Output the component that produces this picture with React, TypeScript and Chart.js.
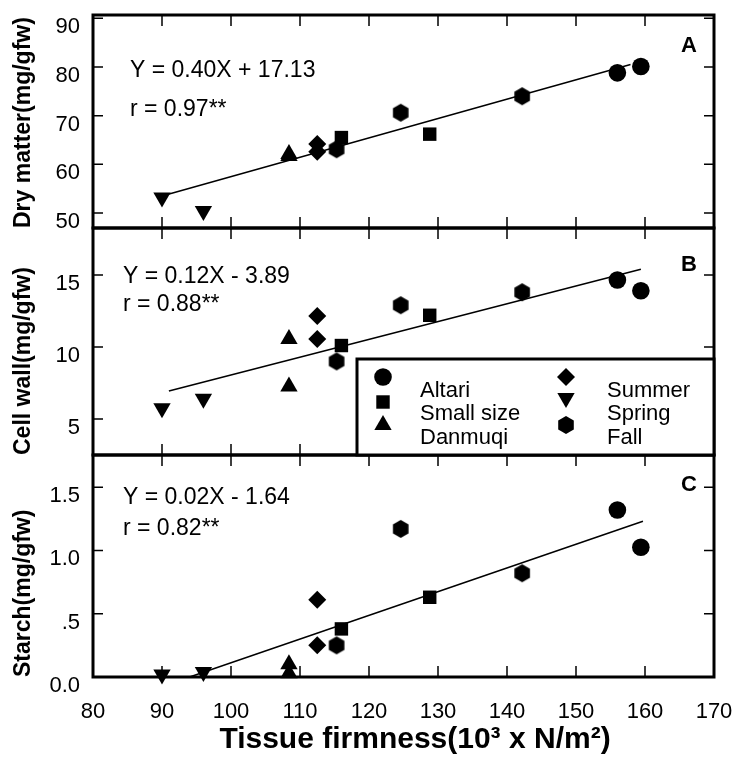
import React, { useEffect, useRef } from 'react';
import { Chart, registerables } from 'chart.js';

Chart.register(...registerables);

const FONT = '"Liberation Sans", Arial, Helvetica, sans-serif';

// ---- data ----
const categories = ['Altari', 'Small size', 'Danmuqi', 'Summer', 'Spring', 'Fall'];
const sampleCategory = ['Altari', 'Altari', 'Small size', 'Small size', 'Danmuqi', 'Danmuqi', 'Summer', 'Summer', 'Spring', 'Spring', 'Fall', 'Fall', 'Fall'];
const firmness = [156, 159.4, 116, 128.8, 108.4, 108.4, 112.5, 112.5, 90, 96, 115.3, 124.6, 142.2];
const dryMatter = [78.8, 80.1, 65.5, 66.2, 62.1, 61.7, 64.2, 62.6, 53.2, 50.4, 63.1, 70.6, 74.0];
const cellWall = [14.65, 13.9, 10.1, 12.2, 10.55, 7.25, 12.15, 10.55, 5.75, 6.4, 9.0, 12.9, 13.8];
const starch = [1.32, 1.025, 0.38, 0.63, 0.1, 0.03, 0.61, 0.25, 0.02, 0.04, 0.25, 1.17, 0.82];

const fitDryX = [90, 157.9];
const fitDryY = [53.5, 80.5];
const fitCellX = [91, 159.4];
const fitCellY = [6.95, 15.4];
const fitStarchX = [94, 159.7];
const fitStarchY = [0, 1.23];

const xTicks = [80, 90, 100, 110, 120, 130, 140, 150, 160, 170];
const dryTicks = [50, 60, 70, 80, 90];
const cellTicks = [5, 10, 15];
const starchTicks = [0, 0.5, 1.0, 1.5];
const starchTickLabels = ['0.0', '.5', '1.0', '1.5'];

const panelTitles = ['Dry matter(mg/gfw)', 'Cell wall(mg/gfw)', 'Starch(mg/gfw)'];
const equations = ['Y = 0.40X + 17.13', 'Y = 0.12X - 3.89', 'Y = 0.02X - 1.64'];
const correlations = ['r = 0.97**', 'r = 0.88**', 'r = 0.82**'];
const panelLetters = ['A', 'B', 'C'];
const xTitle = 'Tissue firmness(10³ x N/m²)';

// ---- styles ----
const PANEL_IDS = ['yA', 'yB', 'yC'];
const eqOffsets = [
  { dx: 37, dy1: 56, dy2: 95 },
  { dx: 30, dy1: 49, dy2: 77 },
  { dx: 30, dy1: 43, dy2: 74 },
];
const letterOffsets = [31, 37, 30];

function makeHexagon(r: number) {
  const w = Math.ceil(2 * r * Math.cos(Math.PI / 6)) + 2;
  const h = Math.ceil(2 * r) + 2;
  const c = document.createElement('canvas');
  c.width = w;
  c.height = h;
  const ctx = c.getContext('2d')!;
  ctx.fillStyle = '#000';
  ctx.beginPath();
  for (let i = 0; i < 6; i++) {
    const a = -Math.PI / 2 + (i * Math.PI) / 3;
    const x = w / 2 + r * Math.cos(a);
    const y = h / 2 + r * Math.sin(a);
    if (i === 0) ctx.moveTo(x, y);
    else ctx.lineTo(x, y);
  }
  ctx.closePath();
  ctx.fill();
  return c;
}

type Marker = { pointStyle: any; radius: number; rotation: number };

function markerFor(cat: string, hex: HTMLCanvasElement): Marker {
  switch (cat) {
    case 'Altari':
      return { pointStyle: 'circle', radius: 8.8, rotation: 0 };
    case 'Small size':
      return { pointStyle: 'rect', radius: 9.5, rotation: 0 };
    case 'Danmuqi':
      return { pointStyle: 'triangle', radius: 10, rotation: 0 };
    case 'Summer':
      return { pointStyle: 'rectRot', radius: 9, rotation: 0 };
    case 'Spring':
      return { pointStyle: 'triangle', radius: 10, rotation: 180 };
    default:
      return { pointStyle: hex, radius: 9, rotation: 0 };
  }
}

function drawMarker(ctx: CanvasRenderingContext2D, m: Marker, x: number, y: number) {
  ctx.save();
  ctx.fillStyle = '#000';
  ctx.translate(x, y);
  ctx.rotate((m.rotation * Math.PI) / 180);
  const r = m.radius;
  if (typeof m.pointStyle !== 'string') {
    const img = m.pointStyle as HTMLCanvasElement;
    ctx.drawImage(img, -img.width / 2, -img.height / 2);
    ctx.restore();
    return;
  }
  ctx.beginPath();
  if (m.pointStyle === 'circle') {
    ctx.arc(0, 0, r, 0, Math.PI * 2);
  } else if (m.pointStyle === 'rect') {
    const s = Math.SQRT1_2 * r;
    ctx.rect(-s, -s, 2 * s, 2 * s);
  } else if (m.pointStyle === 'rectRot') {
    ctx.moveTo(0, -r);
    ctx.lineTo(r, 0);
    ctx.lineTo(0, r);
    ctx.lineTo(-r, 0);
    ctx.closePath();
  } else if (m.pointStyle === 'triangle') {
    for (let i = 0; i < 3; i++) {
      const a = (i * 2 * Math.PI) / 3;
      const px = Math.sin(a) * r;
      const py = -Math.cos(a) * r;
      if (i === 0) ctx.moveTo(px, py);
      else ctx.lineTo(px, py);
    }
    ctx.closePath();
  }
  ctx.fill();
  ctx.restore();
}

export default function App() {
  const canvasRef = useRef<HTMLCanvasElement | null>(null);

  useEffect(() => {
    const canvas = canvasRef.current;
    if (!canvas) return;
    const hex = makeHexagon(9);

    const panelValues = [dryMatter, cellWall, starch];
    const fitsX = [fitDryX, fitCellX, fitStarchX];
    const fitsY = [fitDryY, fitCellY, fitStarchY];

    const datasets: any[] = [];
    PANEL_IDS.forEach((id, p) => {
      categories.forEach((cat) => {
        const m = markerFor(cat, hex);
        const data = firmness
          .map((x, i) => ({ x, y: panelValues[p][i], c: sampleCategory[i] }))
          .filter((d) => d.c === cat)
          .map((d) => ({ x: d.x, y: d.y }));
        datasets.push({
          label: cat,
          data,
          xAxisID: 'x',
          yAxisID: id,
          showLine: false,
          pointStyle: m.pointStyle,
          pointRadius: m.radius,
          pointRotation: m.rotation,
          backgroundColor: '#000',
          borderColor: '#000',
          borderWidth: 0,
          clip: false,
          order: 0,
        });
      });
      datasets.push({
        label: 'fit ' + panelLetters[p],
        data: fitsX[p].map((x, i) => ({ x, y: fitsY[p][i] })),
        xAxisID: 'x',
        yAxisID: id,
        showLine: true,
        pointRadius: 0,
        borderColor: '#000',
        borderWidth: 1.5,
        clip: false,
        order: 1,
      });
    });

    const decor = {
      id: 'panelDecor',
      afterDraw(chart: any) {
        const ctx: CanvasRenderingContext2D = chart.ctx;
        const area = chart.chartArea;
        const xs = chart.scales.x;
        ctx.save();
        ctx.strokeStyle = '#000';
        ctx.fillStyle = '#000';

        PANEL_IDS.forEach((id, p) => {
          const s = chart.scales[id];
          // inward y ticks on both sides
          ctx.lineWidth = 1.5;
          ctx.beginPath();
          s.ticks.forEach((t: any) => {
            const py = s.getPixelForValue(t.value);
            if (py > s.top + 2 && py < s.bottom - 2) {
              ctx.moveTo(area.left, py);
              ctx.lineTo(area.left + 10, py);
              ctx.moveTo(area.right - 10, py);
              ctx.lineTo(area.right, py);
            }
          });
          // inward x ticks at top and bottom of each panel
          xTicks.forEach((v) => {
            const px = xs.getPixelForValue(v);
            if (px > area.left + 2 && px < area.right - 2) {
              ctx.moveTo(px, s.top);
              ctx.lineTo(px, s.top + 11);
              ctx.moveTo(px, s.bottom - 11);
              ctx.lineTo(px, s.bottom);
            }
          });
          ctx.stroke();
          // panel frame
          ctx.lineWidth = 3;
          ctx.strokeRect(area.left, s.top, area.right - area.left, s.bottom - s.top);

          // equation texts
          ctx.font = `23px ${FONT}`;
          ctx.textAlign = 'left';
          ctx.textBaseline = 'middle';
          const o = eqOffsets[p];
          ctx.fillText(equations[p], area.left + o.dx, s.top + o.dy1);
          ctx.fillText(correlations[p], area.left + o.dx, s.top + o.dy2);

          // panel letter
          ctx.font = `bold 22px ${FONT}`;
          ctx.textAlign = 'right';
          ctx.fillText(panelLetters[p], area.right - 17, s.top + letterOffsets[p]);
        });

        // legend box inside panel B
        const sB = chart.scales.yB;
        const lx = area.right - 357;
        const ly = sB.bottom - 96;
        ctx.fillStyle = '#fff';
        ctx.fillRect(lx, ly, area.right - lx, sB.bottom - ly);
        ctx.lineWidth = 3;
        ctx.strokeStyle = '#000';
        ctx.strokeRect(lx, ly, area.right - lx, sB.bottom - ly);
        ctx.fillStyle = '#000';
        ctx.font = `22px ${FONT}`;
        ctx.textAlign = 'left';
        ctx.textBaseline = 'middle';
        const markerDy = [
          [18, 43, 66],
          [18, 39, 66],
        ];
        const textDy = [32, 55, 79];
        categories.forEach((cat, i) => {
          const col = Math.floor(i / 3);
          const row = i % 3;
          const mx = lx + (col === 0 ? 26 : 209);
          const tx = lx + (col === 0 ? 63 : 250);
          drawMarker(ctx, markerFor(cat, hex), mx, ly + markerDy[col][row]);
          ctx.fillText(cat, tx, ly + textDy[row]);
        });

        // x-axis title
        ctx.font = `bold 30px ${FONT}`;
        ctx.textAlign = 'center';
        ctx.textBaseline = 'alphabetic';
        ctx.fillText(xTitle, 415, area.bottom + 71);
        ctx.restore();
      },
    };

    const yAxis = (p: number, min: number, max: number, ticks: number[], weight: number, stackWeight: number, labels?: string[]) => ({
      type: 'linear',
      position: 'left',
      stack: 'panels',
      stackWeight,
      weight,
      min,
      max,
      afterBuildTicks: (s: any) => {
        s.ticks = ticks.map((v) => ({ value: v }));
      },
      afterFit: (s: any) => {
        s.width = 93;
        s.paddingTop = 0;
        s.paddingBottom = 0;
        s.paddingLeft = 0;
        s.paddingRight = 0;
      },
      grid: { display: false, drawTicks: false },
      border: { display: false },
      ticks: {
        font: { family: FONT, size: 22 },
        color: '#000',
        padding: 13,
        labelOffset: 9,
        autoSkip: false,
        callback: (v: number) => {
          if (labels) {
            const idx = ticks.indexOf(v);
            return idx >= 0 ? labels[idx] : '';
          }
          return String(v);
        },
      },
      title: {
        display: true,
        text: panelTitles[p],
        align: 'start',
        color: '#000',
        font: { family: FONT, size: 23, weight: 'bold' },
        padding: { top: 10, bottom: 0 },
      },
    });

    const chart = new Chart(canvas, {
      type: 'scatter',
      data: { datasets },
      options: {
        responsive: false,
        animation: false,
        devicePixelRatio: 1,
        events: [],
        layout: { padding: { left: 0, right: 26, top: 15, bottom: 0 } },
        plugins: {
          legend: { display: false },
          tooltip: { enabled: false },
          title: { display: false },
        },
        scales: {
          x: {
            type: 'linear',
            position: 'bottom',
            min: 80,
            max: 170,
            afterBuildTicks: (s: any) => {
              s.ticks = xTicks.map((v) => ({ value: v }));
            },
            afterFit: (s: any) => {
              s.height = 89;
              s.paddingTop = 0;
              s.paddingBottom = 0;
              s.paddingLeft = 0;
              s.paddingRight = 0;
            },
            grid: { display: false, drawTicks: false },
            border: { display: false },
            ticks: {
              font: { family: FONT, size: 22 },
              color: '#000',
              padding: 22,
              maxRotation: 0,
              autoSkip: false,
            },
          },
          yA: yAxis(0, 46.92, 90.68, dryTicks, 3, 213),
          yB: yAxis(1, 2.5, 18.26, cellTicks, 2, 227),
          yC: yAxis(2, 0, 1.754, starchTicks, 1, 222, starchTickLabels),
        },
      } as any,
      plugins: [decor],
    });

    return () => {
      chart.destroy();
    };
  }, []);

  return (
    <div style={{ position: 'absolute', left: 0, top: 0, width: 740, height: 766, background: '#fff' }}>
      <canvas ref={canvasRef} width={740} height={766} style={{ display: 'block' }} />
    </div>
  );
}
